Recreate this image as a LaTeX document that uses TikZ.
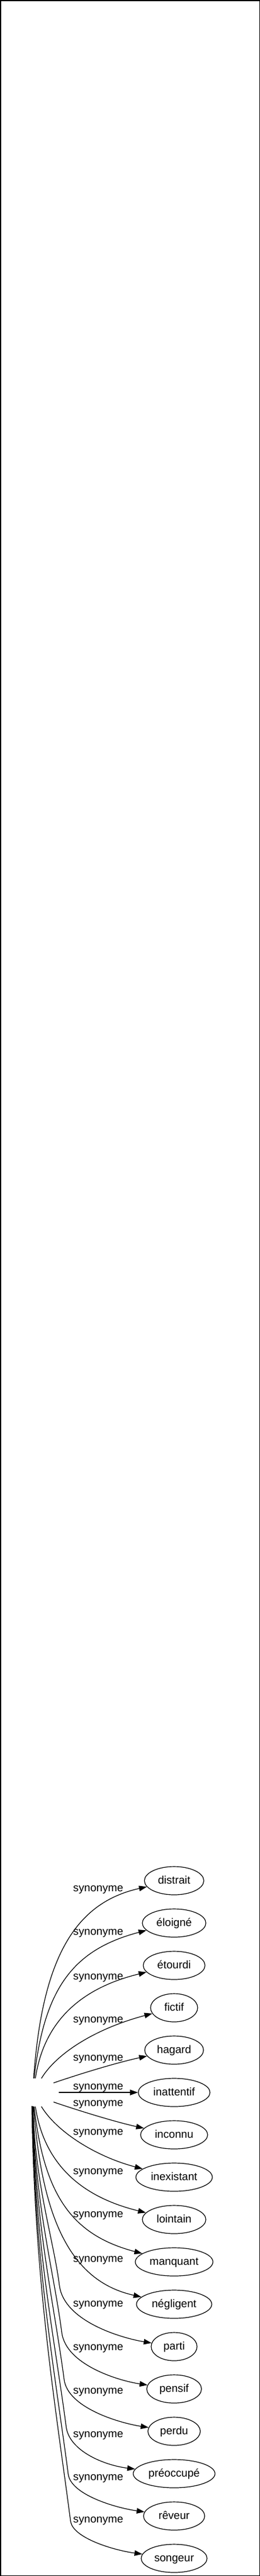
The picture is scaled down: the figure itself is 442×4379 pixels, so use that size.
\documentclass[tikz,border=0pt]{standalone}
\usepackage{fontspec}
\setmainfont{Liberation Sans}
\usetikzlibrary{arrows.meta,shapes.geometric}
\begin{document}
\begin{tikzpicture}[x=0.75pt,y=-0.75pt,
  word/.style={ellipse,draw,line width=0.9pt,minimum height=36pt,inner sep=0pt,
    font=\fontsize{14pt}{16pt}\selectfont,text height=10pt,text depth=2.5pt},
  rel/.style={font=\fontsize{14pt}{16pt}\selectfont,inner sep=0pt,anchor=base},
  synedge/.style={line width=0.9pt,-{Triangle[length=10pt,width=7pt]}}]
\useasboundingbox (0,0) rectangle (442,4379);
\draw[line width=1.125pt] (0.75,0.75) rectangle (441.25,4378.25);

\node[ellipse,minimum width=54pt,minimum height=36pt,inner sep=0pt] (src) at (64,3557) {};

\node[word,minimum width=75.75pt] (n1) at (296,3197) {distrait};
\node[word,minimum width=81pt] (n2) at (296,3269) {éloigné};
\node[word,minimum width=78.75pt] (n3) at (296,3341) {étourdi};
\node[word,minimum width=60pt] (n4) at (296,3413) {fictif};
\node[word,minimum width=75pt] (n5) at (296,3485) {hagard};
\node[word,minimum width=91.5pt] (n6) at (296,3557) {inattentif};
\node[word,minimum width=85.5pt] (n7) at (296,3629) {inconnu};
\node[word,minimum width=97.5pt] (n8) at (296,3701) {inexistant};
\node[word,minimum width=81pt] (n9) at (296,3773) {lointain};
\node[word,minimum width=99pt] (n10) at (296,3845) {manquant};
\node[word,minimum width=96pt] (n11) at (296,3917) {négligent};
\node[word,minimum width=58.5pt] (n12) at (296,3989) {parti};
\node[word,minimum width=69.75pt] (n13) at (296,4061) {pensif};
\node[word,minimum width=66.75pt] (n14) at (296,4133) {perdu};
\node[word,minimum width=104.25pt] (n15) at (296,4205) {préoccupé};
\node[word,minimum width=78pt] (n16) at (296,4277) {rêveur};
\node[word,minimum width=84pt] (n17) at (296,4349) {songeur};

\draw[synedge] (src.106) .. controls (72,3324) and (130,3234) .. (n1);
\draw[synedge] (src.104) .. controls (75,3379) and (125,3314) .. (n2);
\draw[synedge] (src.99) .. controls (75,3434) and (140,3379) .. (n3);
\draw[synedge] (src.75) .. controls (95,3492) and (160,3449) .. (n4);
\draw[synedge] (src.31) .. controls (140,3524) and (200,3506) .. (n5);
\draw[synedge] (src) -- (n6);
\draw[synedge] (src.-31) .. controls (140,3590) and (200,3608) .. (n7);
\draw[synedge] (src.-75) .. controls (95,3622) and (160,3665) .. (n8);
\draw[synedge] (src.-99) .. controls (75,3680) and (140,3735) .. (n9);
\draw[synedge] (src.-104) .. controls (75,3735) and (125,3800) .. (n10);
\draw[synedge] (src.-106) .. controls (72,3790) and (130,3880) .. (n11);
\draw[synedge] (src.-108) .. controls (59,3711) and (90.3,3803) .. (101,3885)
  .. controls (108.75,3946.75) and (209,3975) .. (n12);
\draw[synedge] (src.-109) .. controls (59,3746) and (91.5,3861) .. (105,3965)
  .. controls (112,4020) and (201.5,4047) .. (n13);
\draw[synedge] (src.-110) .. controls (59,3780) and (92.7,3919.5) .. (109,4045)
  .. controls (115.25,4093.25) and (203.5,4119) .. (n14);
\draw[synedge] (src.-111) .. controls (59,3815) and (93.4,3978.5) .. (112.5,4125.5)
  .. controls (118,4167) and (178.5,4191) .. (n15);
\draw[synedge] (src.-112) .. controls (59,3849) and (94,4037) .. (116,4206)
  .. controls (120.75,4240.75) and (196,4263) .. (n16);
\draw[synedge] (src.-113) .. controls (59,3884) and (95.2,4095.4) .. (120,4286)
  .. controls (124,4314) and (192,4335) .. (n17);

\node[rel] (l1) at (167,3215) {synonyme};
\node[rel] (l2) at (167,3289) {synonyme};
\node[rel] (l3) at (167,3365) {synonyme};
\node[rel] (l4) at (167,3438) {synonyme};
\node[rel] (l5) at (167,3503) {synonyme};
\node[rel] (l6) at (167,3552) {synonyme};
\node[rel] (l7) at (167,3580) {synonyme};
\node[rel] (l8) at (167,3629) {synonyme};
\node[rel] (l9) at (167,3696) {synonyme};
\node[rel] (l10) at (167,3769) {synonyme};
\node[rel] (l11) at (167,3845) {synonyme};
\node[rel] (l12) at (167,3921) {synonyme};
\node[rel] (l13) at (167,3995) {synonyme};
\node[rel] (l14) at (167,4069) {synonyme};
\node[rel] (l15) at (167,4143) {synonyme};
\node[rel] (l16) at (167,4216) {synonyme};
\node[rel] (l17) at (167,4288) {synonyme};
\end{tikzpicture}
\end{document}
